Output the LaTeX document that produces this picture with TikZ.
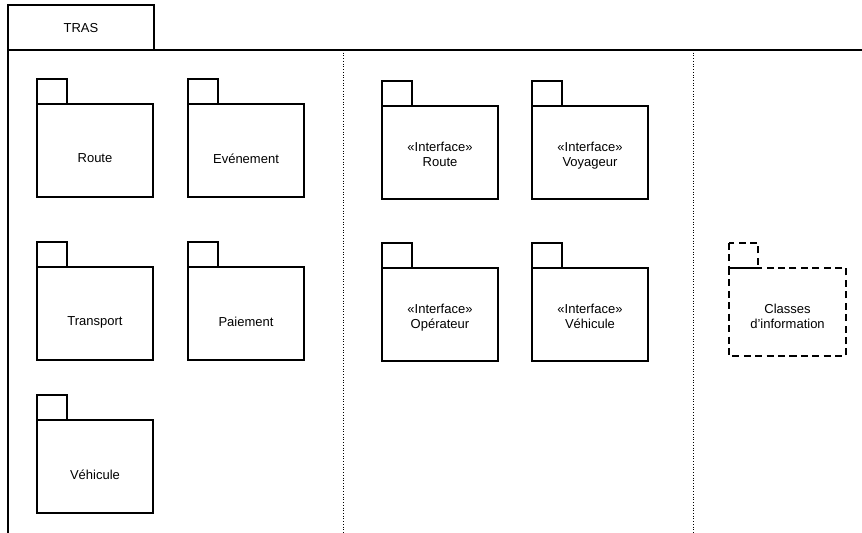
\documentclass[tikz,border=0pt]{standalone}
\usepackage{fontspec}
\setmainfont{Liberation Sans}
\tikzset{
  frame/.style={draw, line width=0.8pt},
  pkg/.style={draw, line width=0.6pt},
  pkgdash/.style={draw, line width=0.6pt, dash pattern=on 4pt off 2.5pt},
  divider/.style={line width=0.55pt, densely dotted},
  pkglabel/.style={font=\fontsize{7.4}{8.5}\selectfont, align=center, inner sep=0pt, text depth=0pt},
}
\begin{document}
\begin{tikzpicture}[x=0.02cm,y=-0.02cm]
\useasboundingbox (0,0) rectangle (862,533);
% outer package TRAS
\draw[frame] (8,533) -- (8,5) -- (154,5) -- (154,50);
\draw[frame] (8,50) -- (862,50);
\node[pkglabel] (tras) at (81,28) {TRAS};
\draw[divider] (343,50) -- (343,533);
\draw[divider] (693,50) -- (693,533);
% packages
\foreach \x/\y/\nm/\dy/\txt in {37/79/route/8/Route, 188/79/evenement/8/Evénement,
  37/242/transport/8/Transport, 188/242/paiement/8/Paiement, 37/395/vehicule/8/Véhicule,
  382/81/iroute/2/{«Interface»\\Route}, 532/81/ivoyageur/2/{«Interface»\\Voyageur},
  382/243/ioperateur/2/{«Interface»\\Opérateur}, 532/243/ivehicule/2/{«Interface»\\Véhicule}}
{
  \draw[pkg] (\x,\y) rectangle ++(30,25);
  \draw[pkg] (\x,\y+25) rectangle ++(116,93);
  \node[pkglabel] (\nm) at (\x+58,\y+71.5+\dy) {\txt};
}
% dashed package
\draw[pkgdash] (729,243) rectangle ++(29,25);
\draw[pkgdash] (729,268) rectangle (846,356);
\node[pkglabel] (classes) at (787.5,316) {Classes\\d'information};
\end{tikzpicture}
\end{document}
